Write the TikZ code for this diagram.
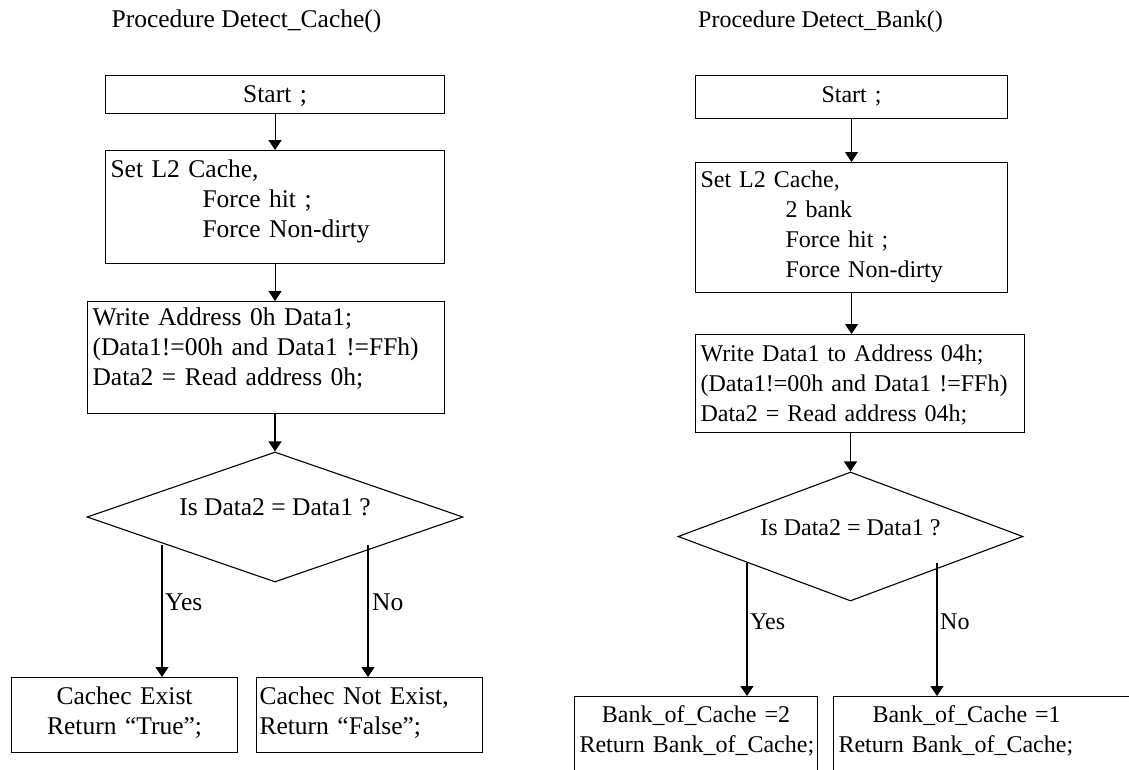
\documentclass[tikz,border=0pt]{standalone}
\usepackage{fontspec}
\setmainfont{Liberation Serif}
\usetikzlibrary{arrows.meta,shapes.geometric}
\newcommand\bodyfont{\fontsize{25.5}{30}\selectfont}
\newcommand\rbodyfont{\fontsize{24}{30}\selectfont}
\tikzset{
  box/.style={draw, rectangle, line width=1.1pt, inner ysep=0pt, inner xsep=5pt,
              anchor=north west, align=left, font=\bodyfont},
  cbox/.style={box, align=center},
  rbox/.style={box, font=\rbodyfont},
  rcbox/.style={cbox, font=\rbodyfont},
  dec/.style={draw, diamond, line width=1.1pt, inner sep=0pt, shape aspect=2.9,
              font=\bodyfont, text height=8pt, text depth=11pt},
  arr/.style={-{Triangle[width=13pt,length=10pt]}, line width=1.1pt},
  lbl/.style={anchor=base west, inner sep=0pt, font=\bodyfont},
  ttl/.style={anchor=base, inner sep=0pt, font=\bodyfont}
}
\begin{document}
\begin{tikzpicture}[x=1pt,y=-1pt]
\useasboundingbox (0,0) rectangle (1129,769);
\clip (0,0) rectangle (1129,769);
\fill[white] (0,0) rectangle (1129,769);

% ---------------- left: Detect_Cache ----------------
\node[ttl] (titleL) at (246.5,27) {Procedure Detect\_Cache()};
\node[cbox, text width=329pt, text height=26.5pt, text depth=11.5pt] (startL) at (105,75) {Start ;};
\node[box, text width=329pt, text height=27pt, text depth=86pt] (setL) at (105,150)
  {Set L2 Cache,\\\hspace*{92pt}Force hit ;\\\hspace*{92pt}Force Non-dirty};
\node[box, text width=347pt, text height=24pt, text depth=88pt] (writeL) at (87,301)
  {\mbox{Write Address 0h Data1;}\\\mbox{(Data1!=00h and Data1 !=FFh)}\\\mbox{Data2 = Read address 0h;}};
\node[dec, minimum width=376pt, minimum height=130pt] (decL) at (275,517) {Is Data2 = Data1 ?};
\node[cbox, text width=216pt, text height=27pt, text depth=48pt] (outL1) at (11,677)
  {Cachec Exist\\Return “True”;};
\node[box, inner xsep=3pt, text width=220pt, text height=27pt, text depth=48pt] (outL2) at (256,677)
  {\mbox{Cachec Not Exist,}\\\mbox{Return “False”;}};

\coordinate (yesL) at (162,545);
\coordinate (noL) at (368,545);
\draw[arr] (startL.south) -- (setL.north);
\draw[arr] (setL.south) -- (setL.south |- writeL.north);
\draw[arr] (decL.north |- writeL.south) -- (decL.north);
\draw[arr] (yesL) -- (yesL |- outL1.north);
\draw[arr] (noL) -- (noL |- outL2.north);
\node[lbl] (yesLlbl) at (165,610) {Yes};
\node[lbl] (noLlbl) at (372,610) {No};

% ---------------- right: Detect_Bank ----------------
\node[ttl, font=\rbodyfont] (titleR) at (820.5,27) {Procedure Detect\_Bank()};
\node[rcbox, text width=302pt, text height=26.5pt, text depth=16.5pt] (startR) at (695,75) {Start ;};
\node[rbox, text width=302pt, text height=25pt, text depth=105pt] (setR) at (695,162)
  {Set L2 Cache,\\\hspace*{85pt}2 bank\\\hspace*{85pt}Force hit ;\\\hspace*{85pt}Force Non-dirty};
\node[rbox, text width=319pt, text height=27pt, text depth=71pt] (writeR) at (695,334)
  {\mbox{Write Data1 to Address 04h;}\\\mbox{(Data1!=00h and Data1 !=FFh)}\\\mbox{Data2 = Read address 04h;}};
\node[dec, font=\rbodyfont, minimum width=345pt, minimum height=129pt] (decR) at (850.5,536.5) {Is Data2 = Data1 ?};
\node[rcbox, text width=233pt, text height=26pt, text depth=74pt] (outR1) at (574,696)
  {\mbox{Bank\_of\_Cache =2}\\\mbox{Return Bank\_of\_Cache;}};
\node[rbox, text width=310pt, text height=26pt, text depth=74pt] (outR2) at (833,696)
  {\hspace*{34pt}Bank\_of\_Cache =1\\\mbox{Return Bank\_of\_Cache;}};

\coordinate (yesR) at (747,563);
\coordinate (noR) at (937,563);
\draw[arr] (startR.south) -- (setR.north);
\draw[arr] (setR.south) -- (setR.south |- writeR.north);
\draw[arr] (decR.north |- writeR.south) -- (decR.north);
\draw[arr] (yesR) -- (yesR |- outR1.north);
\draw[arr] (noR) -- (noR |- outR2.north);
\node[lbl, font=\rbodyfont] (yesRlbl) at (750,629) {Yes};
\node[lbl, font=\rbodyfont] (noRlbl) at (940,629) {No};
\end{tikzpicture}
\end{document}
